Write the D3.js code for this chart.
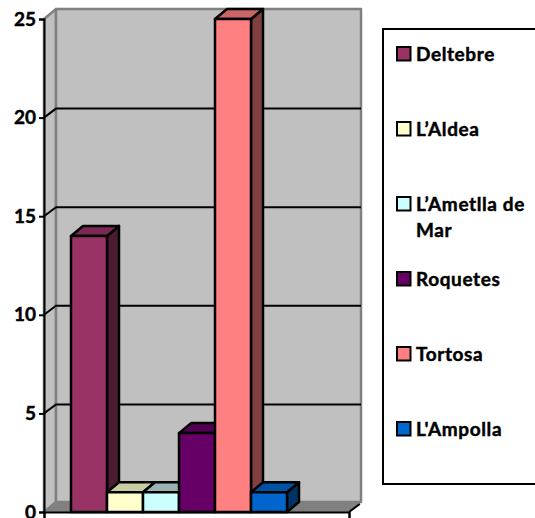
<!DOCTYPE html>
<html><head><meta charset="utf-8">
<script src="https://cdn.jsdelivr.net/npm/d3@7"></script>
<style>html,body{margin:0;padding:0;background:#fff;overflow:hidden}svg{display:block}text{font-family:Lato,"Open Sans",sans-serif;font-weight:700;fill:#000;stroke:#000;stroke-width:.45px}</style>
</head><body>
<script>
const categories = ["Deltebre","L’Aldea","L’Ametlla de Mar","Roquetes","Tortosa","L'Ampolla"];
const values = [14,1,1,4,25,1];
const frontColors = ["#993366","#ffffcc","#ccffff","#660066","#ff8080","#0066cc"];
const topColors = ["#7a2952","#cccca3","#99b3b3","#520052","#cc6666","#0052a3"];
const sideColors = ["#4d1a33","#808066","#668080","#330033","#804040","#003366"];
const yTicks = [0,5,10,15,20,25];
const legendLines = [["Deltebre"],["L’Aldea"],["L’Ametlla de","Mar"],["Roquetes"],["Tortosa"],["L'Ampolla"]];

const W=535,H=518,dx=12,dy=-10,gridDy=-9,left=44,right=349;
const y=d3.scaleLinear().domain([0,25]).range([512,19]);
const x=d3.scaleBand().domain(categories).range([71,287]);
const svg=d3.select("body").append("svg").attr("width",W).attr("height",H);
const poly=(pts,fill,stroke,sw)=>svg.append("polygon").attr("points",pts.map(p=>p.join(",")).join(" ")).attr("fill",fill).attr("stroke",stroke).attr("stroke-width",sw).attr("stroke-linejoin","round");
const y0=y(0),yT=y(25);
// walls
poly([[left,y0],[left+dx,y0+dy],[left+dx,yT+dy],[left,yT]],"#c0c0c0","#808080",2.5);
poly([[left+dx,y0+dy],[right+dx,y0+dy],[right+dx,yT+dy],[left+dx,yT+dy]],"#c0c0c0","#808080",2.5);
poly([[left,y0],[left+dx,y0+dy],[right+dx,y0+dy],[right,y0]],"#808080","#808080",1);
// gridlines
svg.append("g").selectAll("path").data(yTicks.filter(t=>t>0&&t<25)).join("path")
 .attr("d",t=>`M${left},${y(t)}L${left+dx},${y(t)+gridDy}L${right+dx},${y(t)+gridDy}`)
 .attr("fill","none").attr("stroke","#000").attr("stroke-width",2);
// bars
categories.forEach((c,i)=>{
 const a=x(c),b=a+x.bandwidth(),t=y(values[i]);
 poly([[b,t],[b+dx,t+dy],[b+dx,y0+dy],[b,y0]],sideColors[i],"#000",2.5);
 poly([[a,t],[a+dx,t+dy],[b+dx,t+dy],[b,t]],topColors[i],"#000",2.5);
 poly([[a,t],[b,t],[b,y0],[a,y0]],frontColors[i],"#000",2.5);
});
// axes
const yAxis=d3.axisLeft(y).tickValues(yTicks).tickSize(5).tickPadding(3).tickFormat(d3.format("d"));
const ya=svg.append("g").attr("transform",`translate(${left},0)`).call(yAxis);
ya.selectAll("path,line").attr("stroke","#000").attr("stroke-width",2);
ya.selectAll("text").style("font-size","19px").attr("fill","#000");
const xb=d3.scaleLinear().domain([0,1]).range([left,right]);
const xa=svg.append("g").attr("transform",`translate(0,${y0})`).call(d3.axisBottom(xb).tickValues([0,1]).tickSize(6).tickFormat(""));
xa.selectAll("path,line").attr("stroke","#000").attr("stroke-width",2);
svg.append("line").attr("x1",right).attr("y1",y0).attr("x2",right+dx*0.9).attr("y2",y0+dy*0.8).attr("stroke","#000").attr("stroke-width",2);
// legend
svg.append("rect").attr("x",383).attr("y",29).attr("width",170).attr("height",455).attr("fill","#fff").attr("stroke","#000").attr("stroke-width",2);
const legendY=d3.scalePoint().domain(categories).range([47,422]);
categories.forEach((c,i)=>{
 const ly=legendY(c);
 svg.append("rect").attr("x",397).attr("y",ly).attr("width",13.5).attr("height",13.5).attr("fill",frontColors[i]).attr("stroke","#000").attr("stroke-width",2);
 legendLines[i].forEach((s,j)=>svg.append("text").attr("x",416).attr("y",ly+14+j*26).style("font-size","19px").style("letter-spacing","0.6px").text(s));
});
</script>
</body></html>
